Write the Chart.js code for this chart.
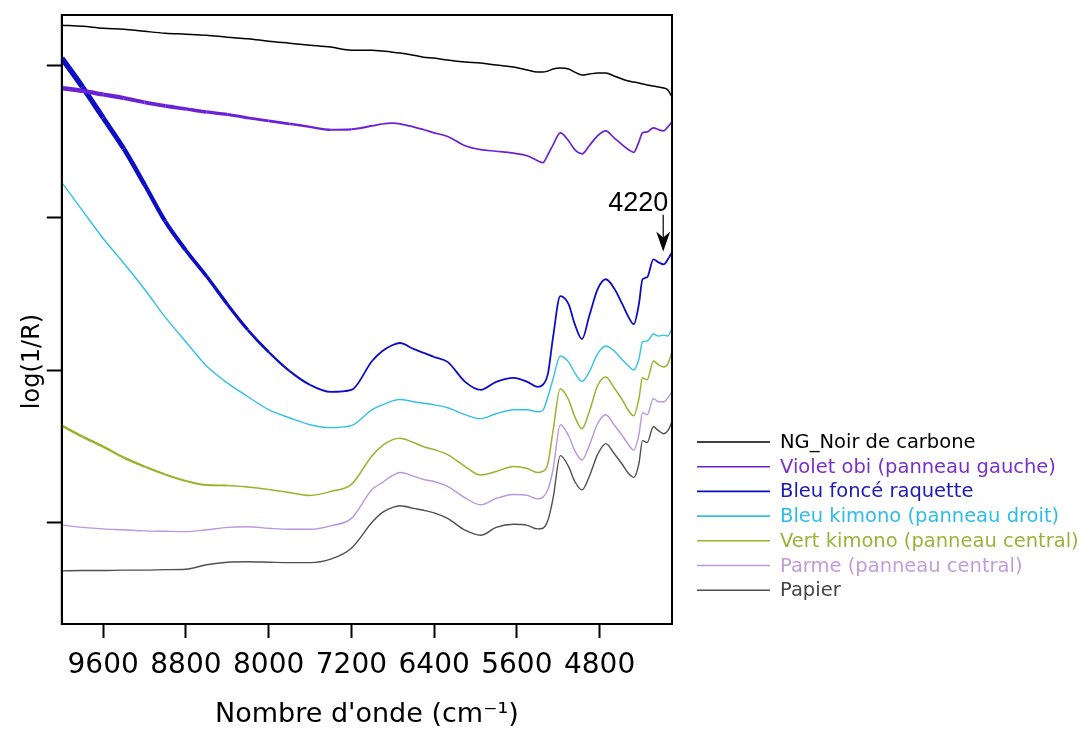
<!DOCTYPE html>
<html><head><meta charset="utf-8">
<script src="https://cdn.jsdelivr.net/npm/chart.js@4.4.0/dist/chart.umd.min.js"></script>
<style>html,body{margin:0;padding:0;background:#fff}#wrap{width:1091px;height:731px}</style>
</head><body><div id="wrap"><canvas id="c" width="1091" height="731"></canvas></div>
<script>
// Wavenumbers (cm-1)
const wavenumbers=[10000,9800,9600,9400,9200,9000,8800,8600,8400,8200,8000,7800,7600,7400,7200,7000,6900,6800,6730,6600,6500,6400,6270,6100,5950,5800,5630,5500,5400,5350,5300,5250,5180,5100,5040,4970,4900,4820,4740,4660,4580,4520,4470,4420,4385,4340,4280,4230,4180,4140,4100];
// log(1/R), offset arbitrary units
const noirCarbone=[32.66,32.59,32.46,32.40,32.26,32.13,32.07,32.00,31.87,31.77,31.61,31.48,31.35,31.22,31.02,31.02,30.96,30.89,30.83,30.69,30.56,30.50,30.37,30.24,30.17,30.04,29.91,29.71,29.58,29.58,29.65,29.78,29.84,29.78,29.58,29.39,29.45,29.52,29.52,29.32,29.12,28.99,28.93,28.86,28.80,28.73,28.66,28.60,28.53,28.40,27.94];
const violetObi=[28.53,28.34,28.11,27.88,27.59,27.36,27.16,26.96,26.80,26.57,26.37,26.18,25.98,25.79,25.82,26.05,26.18,26.22,26.18,25.98,25.79,25.59,25.35,24.74,24.48,24.38,24.25,24.08,23.76,23.63,24.15,24.80,25.59,25.07,24.48,24.21,24.74,25.39,25.72,25.26,24.80,24.48,24.31,25.00,25.59,25.65,25.92,25.79,25.72,25.98,26.31];
const bleuFonce=[30.50,28.60,26.57,24.54,22.19,19.77,17.87,16.16,14.33,12.63,11.19,9.95,9.03,8.57,8.70,10.60,11.26,11.65,11.78,11.39,11.13,10.86,10.54,9.23,8.70,9.23,9.49,9.23,8.90,9.03,9.75,12.17,14.86,14.33,13.02,12.04,13.55,15.31,15.97,15.38,14.33,13.48,13.02,14.33,15.97,16.10,17.28,17.08,16.95,17.28,17.74];
const bleuKimono=[22.32,20.48,18.65,17.02,15.31,13.48,11.85,10.27,9.16,8.25,7.40,6.87,6.41,6.22,6.35,7.40,7.72,7.98,8.07,7.92,7.82,7.72,7.53,7.07,6.81,7.13,7.40,7.40,7.26,7.35,8.25,9.42,10.93,10.54,9.82,9.26,9.88,11.06,11.58,11.26,10.67,10.27,10.01,10.73,11.85,11.91,12.37,12.24,12.30,12.24,12.76];
const vertKimono=[6.35,5.63,4.97,4.25,3.66,3.14,2.72,2.45,2.42,2.32,2.16,1.96,1.77,2.03,2.49,4.38,5.04,5.43,5.53,5.24,4.97,4.78,4.45,3.66,3.11,3.34,3.66,3.53,3.27,3.34,3.86,6.02,8.77,8.05,6.94,6.15,7.26,8.97,9.55,8.84,8.05,7.33,7.00,8.12,9.49,9.36,10.60,10.34,10.21,10.41,11.19];
const parme=[-0.18,-0.33,-0.43,-0.49,-0.56,-0.59,-0.61,-0.49,-0.33,-0.29,-0.39,-0.46,-0.46,-0.23,0.26,2.16,2.62,3.08,3.27,3.04,2.81,2.68,2.36,1.60,1.15,1.57,1.83,1.77,1.54,1.64,2.16,3.47,6.41,5.69,4.71,4.09,5.04,6.48,7.07,6.41,5.69,5.10,4.74,5.76,7.20,7.07,8.12,7.92,7.92,8.18,8.57];
const papier=[-3.19,-3.17,-3.17,-3.14,-3.14,-3.11,-3.08,-2.79,-2.62,-2.59,-2.62,-2.65,-2.65,-2.42,-1.70,0.00,0.65,0.98,1.09,0.92,0.79,0.62,0.26,-0.52,-0.85,-0.33,-0.13,-0.20,-0.43,-0.39,0.13,1.57,4.38,3.66,2.68,2.13,3.01,4.45,5.17,4.52,3.80,3.21,2.95,3.86,5.37,5.24,6.28,6.02,5.82,6.02,6.61];

const seriesNames=['NG_Noir de carbone','Violet obi (panneau gauche)','Bleu foncé raquette','Bleu kimono (panneau droit)','Vert kimono (panneau central)','Parme (panneau central)','Papier'];
const seriesValues=[noirCarbone,violetObi,bleuFonce,bleuKimono,vertKimono,parme,papier];
const lineColors=['#000000','#6a22d4','#0d0dc4','#33c0e6','#9bb22c','#bc96dc','#505050'];
const textColors=['#000000','#7a30c8','#1a1ab4','#2ebde8','#98b43a','#c39ddb','#454545'];
const xTickValues=[9600,8800,8000,7200,6400,5600,4800];
const yTickValues=[0,10,20,30];
const arrowText='4220';
const arrowWn=4185, arrowTopVal=20.2, arrowTipVal=17.8, arrowTextVal=20.48;

function taper(wide,narrow,xWide,xNarrow){
  return ctx=>{const x=ctx.p0.parsed.x;let t=(x-xNarrow)/(xWide-xNarrow);t=Math.max(0,Math.min(1,t));return narrow+(wide-narrow)*t;};
}
const segWidths=[null,taper(4.5,1.7,10000,6900),taper(5.5,1.8,10000,7600),null,taper(2.6,1.5,10000,8000),null,null];
const baseWidths=[1.5,1.8,1.8,1.4,1.5,1.4,1.4];

const datasets=seriesNames.map((name,i)=>({
  label:name,
  data:wavenumbers.map((w,j)=>({x:w,y:seriesValues[i][j]})),
  borderColor:lineColors[i],
  backgroundColor:lineColors[i],
  borderWidth:baseWidths[i],
  pointRadius:0,
  cubicInterpolationMode:'monotone',
  fill:false,
  segment:segWidths[i]?{borderWidth:segWidths[i]}:undefined
}));

const framePlugin={id:'frame',afterDatasetsDraw(chart){
  const {ctx,chartArea:a}=chart;ctx.save();ctx.strokeStyle='#000';ctx.lineWidth=2;
  ctx.strokeRect(a.left,a.top,a.right-a.left,a.bottom-a.top);ctx.restore();
}};
const arrowPlugin={id:'arrowNote',afterDatasetsDraw(chart){
  const {ctx}=chart;const xs=chart.scales.x,ys=chart.scales.y;
  const x=xs.getPixelForValue(arrowWn);const yT=ys.getPixelForValue(arrowTopVal);const yP=ys.getPixelForValue(arrowTipVal);
  ctx.save();ctx.strokeStyle='#000';ctx.fillStyle='#000';ctx.lineWidth=1.2;
  ctx.beginPath();ctx.moveTo(x,yT);ctx.lineTo(x,yP-12);ctx.stroke();
  ctx.beginPath();ctx.moveTo(x,yP);ctx.lineTo(x-7,yP-20);ctx.lineTo(x,yP-14);ctx.lineTo(x+7,yP-20);ctx.closePath();ctx.fill();
  ctx.font='27px "Liberation Sans", Arial, sans-serif';ctx.textAlign='right';ctx.textBaseline='alphabetic';
  ctx.fillText(arrowText,x+5,ys.getPixelForValue(arrowTextVal));
  ctx.restore();
}};
const legendPlugin={id:'sideLegend',afterDraw(chart){
  const {ctx,chartArea:a}=chart;const x0=a.right+25,len=73,rowH=24.7,y0=a.bottom-182;
  ctx.save();ctx.font='19.5px "DejaVu Sans", sans-serif';ctx.textBaseline='middle';ctx.textAlign='left';
  chart.data.datasets.forEach((ds,i)=>{
    const y=y0+i*rowH;ctx.strokeStyle=ds.borderColor;ctx.lineWidth=1.6;
    ctx.beginPath();ctx.moveTo(x0,y);ctx.lineTo(x0+len,y);ctx.stroke();
    ctx.fillStyle=textColors[i];ctx.fillText(ds.label,x0+len+10,y+1);
  });
  ctx.restore();
}};

new Chart(document.getElementById('c'),{
  type:'line',
  data:{datasets},
  options:{
    responsive:false,animation:false,devicePixelRatio:1,
    layout:{padding:{left:18,top:15,right:419,bottom:0}},
    plugins:{legend:{display:false},tooltip:{enabled:false}},
    scales:{
      x:{type:'linear',reverse:true,min:4100,max:10000,
        afterBuildTicks:s=>{s.ticks=xTickValues.map(v=>({value:v}));},
        ticks:{color:'#000',font:{family:'"DejaVu Sans", sans-serif',size:28},padding:11,maxRotation:0,autoSkip:false,callback:v=>String(v)},
        grid:{display:true,drawOnChartArea:false,drawTicks:true,tickLength:14,tickColor:'#000',tickWidth:2},
        border:{display:true,color:'#000',width:2},
        title:{display:true,text:"Nombre d'onde (cm⁻¹)",color:'#000',font:{family:'"DejaVu Sans", sans-serif',size:27},padding:{top:5,bottom:0}}
      },
      y:{type:'linear',min:-6.68,max:33.33,
        afterBuildTicks:s=>{s.ticks=yTickValues.map(v=>({value:v}));},
        ticks:{display:false},
        grid:{display:true,drawOnChartArea:false,drawTicks:true,tickLength:15,tickColor:'#000',tickWidth:2},
        border:{display:true,color:'#000',width:2},
        title:{display:true,text:'log(1/R)'+'\u00A0'.repeat(11),color:'#000',font:{family:'"DejaVu Sans", sans-serif',size:24},padding:{top:0,bottom:0}}
      }
    }
  },
  plugins:[framePlugin,arrowPlugin,legendPlugin]
});
</script></body></html>
